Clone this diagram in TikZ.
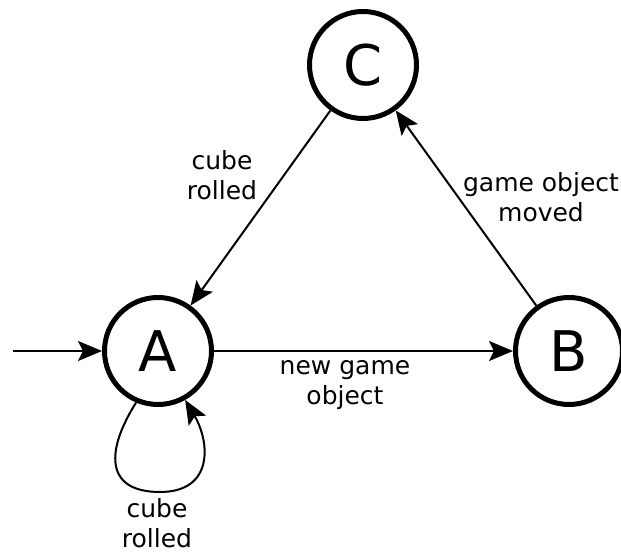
\documentclass[tikz,border=0pt]{standalone}
\usepackage{fontspec}
\setmainfont{DejaVu Sans}
\usetikzlibrary{arrows.meta}
\begin{document}
\begin{tikzpicture}[x=1pt,y=1pt,
  state/.style={circle,draw,line width=5pt,minimum size=107pt,inner sep=0pt,
    font=\fontsize{56}{60}\selectfont},
  trans/.style={line width=2pt,-{Stealth[length=24pt,width=20pt,inset=5pt]}},
  lbl/.style={align=center,inner sep=0pt,font=\fontsize{25}{30}\selectfont}]
\useasboundingbox (0,0) rectangle (621,554);
\node[state] (C) at (363,489) {C};
\node[state] (A) at (158,203) {A};
\node[state] (B) at (569,203) {B};
\coordinate (in) at (13,203);
\draw[trans] (in) -- (A);
\draw[trans] (A) -- (B);
\draw[trans] (B) -- (C);
\draw[trans] (C) -- (A);
\draw[trans] (A.247) .. controls (106,104) and (104,62) .. (160,62)
  .. controls (214,62) and (210,112) .. (A.299);
\node[lbl] (lca) at (222,379) {cube\\rolled};
\node[lbl] (lbc) at (541,357) {game object\\moved};
\node[lbl] (lab) at (345,169) {new game\\object};
\node[lbl] (laa) at (157,31) {cube\\rolled};
\end{tikzpicture}
\end{document}
